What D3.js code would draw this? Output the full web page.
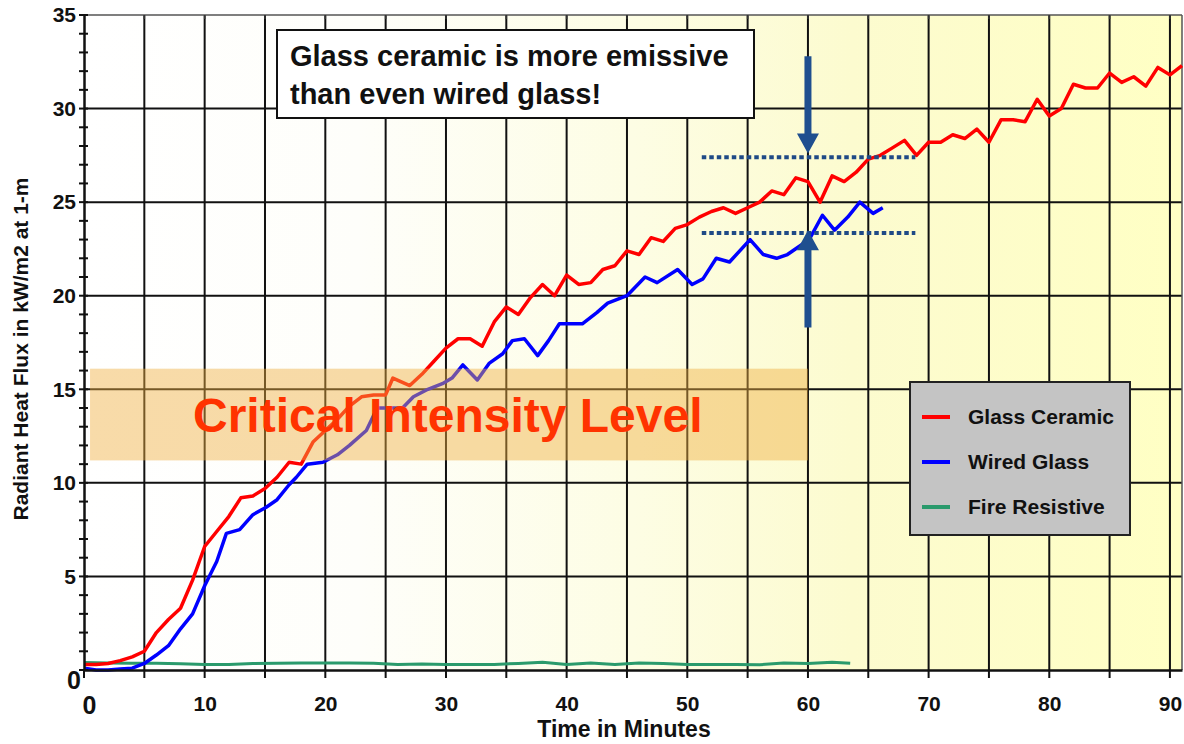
<!DOCTYPE html>
<html>
<head>
<meta charset="utf-8">
<script src="https://cdn.jsdelivr.net/npm/d3@7"></script>
<style>
  body { margin: 0; background: #fff; }
  svg { display: block; font-family: "Liberation Sans", Arial, sans-serif; font-weight: bold; }
</style>
</head>
<body>
<svg width="1184" height="744"></svg>
<script>
// Glass Ceramic (red)
var ceramicTime = [0,1,2,3,4,5,6,7,8,9,10,11,12,13,14,15,16,17,18,19,20,21,22,23,24,25,25.6,27,28,29,30,31,32,33,34,35,36,37,38,39,40,41,42,43,44,45,46,47,48,49,50,51,52,53,54,55,56,57,58,59,60,61,62,63,64,65,66,67,68,69,70,71,72,73,74,75,76,77,78,79,80,81,82,83,84,85,86,87,88,89,90,91];
var ceramicFlux = [0.3,0.3,0.35,0.5,0.7,1.0,2.0,2.7,3.3,4.8,6.6,7.4,8.2,9.2,9.3,9.7,10.3,11.1,11.0,12.2,12.8,13.4,14.1,14.6,14.7,14.7,15.6,15.2,15.8,16.5,17.2,17.7,17.7,17.3,18.6,19.4,19.0,19.9,20.6,20.0,21.1,20.6,20.7,21.4,21.6,22.4,22.2,23.1,22.9,23.6,23.8,24.2,24.5,24.7,24.4,24.7,25.0,25.6,25.4,26.3,26.1,25.0,26.4,26.1,26.6,27.3,27.5,27.9,28.3,27.5,28.2,28.2,28.6,28.4,28.9,28.2,29.4,29.4,29.3,30.5,29.6,30.0,31.3,31.1,31.1,31.9,31.4,31.7,31.2,32.2,31.8,32.3];

// Wired Glass (blue)
var wiredTime = [0,1,2,3,4,5,6,7,8,9,10,11,11.8,12.9,14,15.1,16,17,17.6,18.5,19.8,21,22,23.4,24.3,26.4,27.3,28.5,29.7,30.5,31.4,32.6,33.6,34.7,35.5,36.5,37.6,38.5,39.4,41.3,42.5,43.4,45,46.5,47.5,49.2,50.4,51.3,52.4,53.5,55.2,56.3,57.4,58.3,59.2,60.1,61.2,62.2,63.3,64.3,65.4,66.2];
var wiredFlux = [0.1,0.0,0.0,0.05,0.1,0.35,0.8,1.3,2.2,3.0,4.5,5.8,7.3,7.5,8.3,8.7,9.1,9.9,10.3,11.0,11.1,11.5,12.0,12.8,14.0,14.0,14.6,15.0,15.3,15.6,16.3,15.5,16.4,16.9,17.6,17.7,16.8,17.6,18.5,18.5,19.1,19.6,20.0,21.0,20.7,21.4,20.6,20.9,22.0,21.8,23.0,22.2,22.0,22.2,22.6,23.0,24.3,23.5,24.2,25.0,24.4,24.7];

// Fire Resistive (green)
var fireTime = [0,2,4,6,8,10,12,14,16,18,20,22,24,26,28,30,32,34,36,38,40,42,44,46,48,50,52,54,56,58,60,62,63.5];
var fireFlux = [0.4,0.38,0.36,0.36,0.34,0.3,0.3,0.35,0.36,0.38,0.38,0.38,0.36,0.3,0.32,0.3,0.3,0.3,0.35,0.42,0.3,0.38,0.3,0.38,0.35,0.3,0.3,0.3,0.28,0.38,0.35,0.42,0.36];

var seriesNames = ["Glass Ceramic", "Wired Glass", "Fire Resistive"];
var seriesColors = ["#ff0000", "#0000ff", "#2a9a6c"];

var xTicks = [0,10,20,30,40,50,60,70,80,90];
var yTicks = [0,5,10,15,20,25,30,35];

// critical band (kW/m2) and comparison levels
var criticalLow = 11.2, criticalHigh = 16.1;
var ceramicLevel = 27.4, wiredLevel = 23.35;

var svg = d3.select("svg");

var xScale = d3.scaleLinear().domain([0, 91]).range([84, 1182]);
var yScale = d3.scaleLinear().domain([0, 35]).range([670, 15]);

// background gradient white -> pale yellow
var defs = svg.append("defs");
var grad = defs.append("linearGradient").attr("id", "bg")
      .attr("x1", "0%").attr("x2", "100%").attr("y1", "0%").attr("y2", "0%");
grad.append("stop").attr("offset", "0%").attr("stop-color", "#ffffff");
grad.append("stop").attr("offset", "25%").attr("stop-color", "#fefefa");
grad.append("stop").attr("offset", "50%").attr("stop-color", "#fdfde4");
grad.append("stop").attr("offset", "70%").attr("stop-color", "#fcfbcf");
grad.append("stop").attr("offset", "100%").attr("stop-color", "#ffffc4");

svg.append("rect")
      .attr("x", xScale(0)).attr("y", yScale(35))
      .attr("width", xScale(91) - xScale(0)).attr("height", yScale(0) - yScale(35))
      .attr("fill", "url(#bg)");

// grid
svg.append("g").selectAll("line")
      .data(d3.range(5, 91, 5))
      .enter().append("line")
      .attr("x1", d => xScale(d)).attr("x2", d => xScale(d))
      .attr("y1", yScale(0)).attr("y2", yScale(35))
      .attr("stroke", "#111").attr("stroke-width", 2);

svg.append("g").selectAll("line")
      .data(d3.range(5, 35, 5))
      .enter().append("line")
      .attr("x1", xScale(0)).attr("x2", xScale(91))
      .attr("y1", d => yScale(d)).attr("y2", d => yScale(d))
      .attr("stroke", "#111").attr("stroke-width", 2);

// frame top / right
svg.append("line")
      .attr("x1", xScale(0)).attr("x2", xScale(91))
      .attr("y1", yScale(35)).attr("y2", yScale(35))
      .attr("stroke", "#555").attr("stroke-width", 1.5);
svg.append("line")
      .attr("x1", xScale(91)).attr("x2", xScale(91))
      .attr("y1", yScale(35)).attr("y2", yScale(0))
      .attr("stroke", "#555").attr("stroke-width", 1.5);

// small ticks along the top edge
svg.append("g").selectAll("line")
      .data(d3.range(5, 91, 5))
      .enter().append("line")
      .attr("x1", d => xScale(d)).attr("x2", d => xScale(d))
      .attr("y1", yScale(35)).attr("y2", yScale(35) + 4)
      .attr("stroke", "#333").attr("stroke-width", 1.5);

// lines
var line = d3.line()
      .x(d => xScale(d[0]))
      .y(d => yScale(d[1]));

var seriesData = [
  d3.zip(fireTime, fireFlux),
  d3.zip(wiredTime, wiredFlux),
  d3.zip(ceramicTime, ceramicFlux)
];
var drawColors = [seriesColors[2], seriesColors[1], seriesColors[0]];

svg.append("g").selectAll("path")
      .data(seriesData)
      .enter().append("path")
      .attr("d", line)
      .attr("fill", "none")
      .attr("stroke", (d, i) => drawColors[i])
      .attr("stroke-width", (d, i) => i == 0 ? 3 : 3.5)
      .attr("stroke-linejoin", "round");

// critical intensity band on top (translucent)
svg.append("rect")
      .attr("x", xScale(0.5)).attr("y", yScale(criticalHigh))
      .attr("width", xScale(60) - xScale(0.5))
      .attr("height", yScale(criticalLow) - yScale(criticalHigh))
      .attr("fill", "#f0b040").attr("opacity", 0.45);

svg.append("text")
      .attr("x", 193).attr("y", 432)
      .attr("font-size", 48)
      .attr("fill", "#ff3300")
      .text("Critical Intensity Level");

// dotted comparison lines
svg.append("g").selectAll("line")
      .data([ceramicLevel, wiredLevel])
      .enter().append("line")
      .attr("x1", xScale(51.2)).attr("x2", xScale(68.9))
      .attr("y1", d => yScale(d)).attr("y2", d => yScale(d))
      .attr("stroke", "#1f4a86").attr("stroke-width", 4)
      .attr("stroke-dasharray", "4.5,3");

// arrows at t = 60
var arrowColor = "#1f4f8f";
function arrowPath(xv, fromV, toV) {
  var x0 = xScale(xv), y0 = yScale(fromV), y1 = yScale(toV);
  var dir = y1 > y0 ? 1 : -1;
  var headLen = 20, headW = 11, shaftW = 3.5;
  var yb = y1 - dir * headLen;
  return "M" + (x0 - shaftW) + "," + y0 + "L" + (x0 + shaftW) + "," + y0 +
         "L" + (x0 + shaftW) + "," + yb + "L" + (x0 + headW) + "," + yb +
         "L" + x0 + "," + y1 + "L" + (x0 - headW) + "," + yb +
         "L" + (x0 - shaftW) + "," + yb + "Z";
}
svg.append("path").attr("d", arrowPath(60, 32.8, 27.6)).attr("fill", arrowColor);
svg.append("path").attr("d", arrowPath(60, 18.3, 23.5)).attr("fill", arrowColor);

// annotation box
svg.append("rect")
      .attr("x", 277).attr("y", 30).attr("width", 477).attr("height", 88)
      .attr("fill", "#fff").attr("stroke", "#111").attr("stroke-width", 2);
svg.append("text")
      .attr("x", 290).attr("y", 66).attr("font-size", 29).attr("fill", "#111")
      .text("Glass ceramic is more emissive");
svg.append("text")
      .attr("x", 290).attr("y", 104).attr("font-size", 29).attr("fill", "#111")
      .text("than even wired glass!");

// legend
var legend = svg.append("g").attr("transform", "translate(910,382)");
legend.append("rect")
      .attr("width", 220).attr("height", 153)
      .attr("fill", "#c4c4c4").attr("stroke", "#222").attr("stroke-width", 2);
var items = legend.selectAll("g.item")
      .data(seriesNames)
      .enter().append("g")
      .attr("transform", (d, i) => "translate(0," + (35 + i * 45) + ")");
items.append("line")
      .attr("x1", 12).attr("x2", 40)
      .attr("stroke", (d, i) => seriesColors[i]).attr("stroke-width", 4);
items.append("text")
      .attr("x", 58).attr("y", 7).attr("font-size", 21).attr("fill", "#111")
      .text(d => d);

// axes
var yAxis = d3.axisLeft(yScale).tickValues(yTicks).tickSize(0).tickPadding(8);
var gy = svg.append("g").attr("transform", "translate(" + xScale(0) + ",0)").call(yAxis);
gy.select(".domain").attr("stroke", "#111").attr("stroke-width", 2.5);
gy.selectAll("text").attr("font-size", 21).attr("fill", "#111")
      .attr("font-family", "Liberation Sans, Arial, sans-serif").attr("font-weight", "bold");
gy.selectAll(".tick").filter(d => d === 0).select("text")
      .attr("font-size", 25).attr("dy", "0.75em").attr("x", -3);

svg.append("g").selectAll("line")
      .data(d3.range(0, 36, 1))
      .enter().append("line")
      .attr("x1", xScale(0) - 5).attr("x2", xScale(0) + 4)
      .attr("y1", d => yScale(d)).attr("y2", d => yScale(d))
      .attr("stroke", "#111").attr("stroke-width", 2);

var xAxis = d3.axisBottom(xScale).tickValues(xTicks).tickSize(0).tickPadding(26);
var gx = svg.append("g").attr("transform", "translate(0," + yScale(0) + ")").call(xAxis);
gx.select(".domain").attr("stroke", "#111").attr("stroke-width", 2.5);
gx.selectAll("text").attr("font-size", 21).attr("fill", "#111")
      .attr("font-family", "Liberation Sans, Arial, sans-serif").attr("font-weight", "bold");
gx.selectAll(".tick").filter(d => d === 0).select("text")
      .attr("font-size", 25).attr("x", 5);

svg.append("g").selectAll("line")
      .data(d3.range(0, 91, 5))
      .enter().append("line")
      .attr("x1", d => xScale(d)).attr("x2", d => xScale(d))
      .attr("y1", yScale(0)).attr("y2", yScale(0) + 8)
      .attr("stroke", "#111").attr("stroke-width", 2);

// axis titles
svg.append("text")
      .attr("x", 624).attr("y", 737)
      .attr("text-anchor", "middle").attr("font-size", 23).attr("fill", "#111")
      .text("Time in Minutes");

svg.append("text")
      .attr("transform", "translate(28,349) rotate(-90)")
      .attr("text-anchor", "middle").attr("font-size", 21).attr("fill", "#111")
      .text("Radiant Heat Flux in kW/m2 at 1-m");
</script>
</body>
</html>
